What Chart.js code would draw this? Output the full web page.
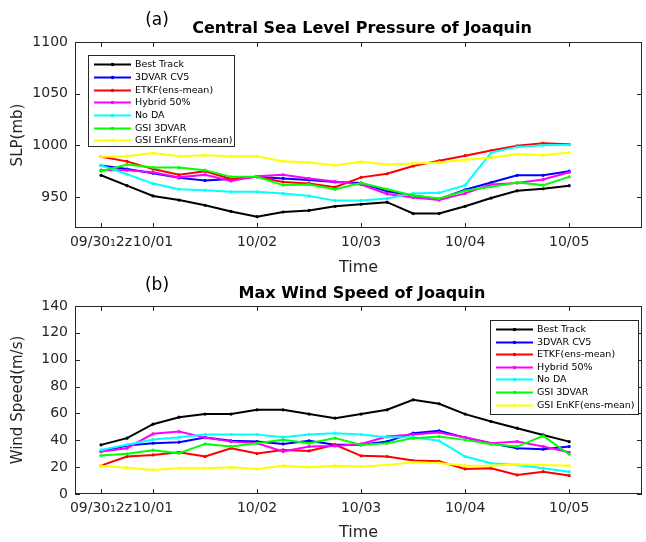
<!DOCTYPE html>
<html>
<head>
<meta charset="utf-8">
<script src="https://cdn.jsdelivr.net/npm/chart.js@4.4.0/dist/chart.umd.min.js"></script>
<style>
  body { margin: 0; background: #fff; }
  #wrap { position: relative; width: 646px; height: 542px; overflow: hidden; background: #fff; }
  canvas { position: absolute; left: 0; }
  #slpChart { top: 0; }
  #windChart { top: 271px; }
</style>
</head>
<body>
<div id="wrap">
  <canvas id="slpChart" width="646" height="280" style="width:646px;height:280px"></canvas>
  <canvas id="windChart" width="646" height="271" style="width:646px;height:271px"></canvas>
</div>
<script>
// hours after 09/30 12z, one point every 6 h
const hours = [0, 6, 12, 18, 24, 30, 36, 42, 48, 54, 60, 66, 72, 78, 84, 90, 96, 102, 108];
const tickHours = [0, 12, 36, 60, 84, 108];
const tickLabels = ['09/30\u20812z', '10/01', '10/02', '10/03', '10/04', '10/05'];

const seriesNames = ['Best Track', '3DVAR CV5', 'ETKF(ens-mean)', 'Hybrid 50%', 'No DA', 'GSI 3DVAR', 'GSI EnKF(ens-mean)'];
const seriesColors = ['#000000', '#0000ff', '#ff0000', '#ff00ff', '#00ffff', '#00ff00', '#ffff00'];

// (a) central sea level pressure, mb
const slpTicks = [950, 1000, 1050, 1100];
const bestSLP = [971, 961, 951, 947, 942, 936, 931, 935.5, 937, 941, 943, 945, 934, 934, 941, 949, 956, 958, 961];
const cv5SLP = [980.5, 977, 973, 968.5, 966, 967.5, 969.5, 968, 966.5, 964.5, 963.5, 955.5, 951.5, 948, 957, 964, 971, 971, 975];
const etkfSLP = [989, 984.5, 977, 971.5, 975, 967.5, 969.5, 964.5, 963, 959.5, 969, 972.5, 980, 985, 990, 995, 999.5, 1002, 1001];
const hybSLP = [976, 976, 974, 969, 971.5, 965.5, 970, 971.5, 968, 965, 962, 953, 949.5, 947, 953.5, 962, 963.5, 967, 974];
const nodaSLP = [980.5, 972, 963, 957.5, 956.5, 955, 955, 953.5, 951, 946.5, 946.5, 948.5, 953.5, 954, 961.5, 993, 998.5, 1000, 1000.5];
const gsiSLP = [975, 981.5, 978.5, 978.5, 976, 969.5, 969.5, 961.5, 962, 957.5, 963.5, 957.5, 951.5, 948.5, 956, 960, 964, 961.5, 969.5];
const enkfSLP = [989, 989.5, 992.5, 989.5, 990.5, 989.5, 989.5, 984.5, 983.5, 980.5, 984, 981.5, 982.5, 983.5, 986, 988, 991.5, 990.5, 993];

// (b) max wind speed, m/s
const windTicks = [0, 20, 40, 60, 80, 100, 120, 140];
const bestWind = [36.6, 41.6, 52, 57.2, 59.5, 59.5, 62.7, 62.7, 59.5, 56.5, 59.5, 62.7, 70.1, 67.2, 59.5, 54, 49, 44, 39];
const cv5Wind = [31.6, 36.1, 37.8, 38.6, 42, 39.6, 39.1, 37.3, 39.6, 36.6, 36.6, 39.1, 45.3, 47, 42, 37.8, 34.1, 33.4, 35.3];
const etkfWind = [21.1, 27.9, 29.1, 31.1, 27.9, 34.1, 30.1, 32.8, 32.1, 36.6, 28.4, 27.9, 24.9, 24.4, 18.7, 19.2, 14.2, 16.6, 13.7];
const hybWind = [31.6, 34.1, 44.8, 46.5, 42, 39, 37.8, 31.6, 35.3, 35.8, 37.3, 42.8, 44.3, 45.8, 42, 37.8, 39.1, 35.3, 31.1];
const nodaWind = [32.8, 36.6, 40.5, 42.3, 44.3, 44.3, 44.3, 42.3, 44.3, 45.3, 44.3, 42.3, 42.3, 39.6, 27.9, 22.9, 21.6, 19.2, 16.6];
const gsiWind = [28.6, 29.9, 32.6, 30.4, 37.3, 35.3, 37.8, 40.3, 37.8, 41.6, 36.6, 37.8, 41.6, 42.8, 40.3, 37, 35.3, 43.3, 29.6];
const enkfWind = [21.1, 19.6, 17.9, 19.2, 19.2, 19.9, 18.7, 21.1, 19.9, 21.1, 20.4, 21.6, 23.6, 23, 21.1, 21.1, 22.1, 21.6, 21.1];

Chart.defaults.font.family = 'DejaVu Sans';
Chart.defaults.color = '#262626';

const axisColor = '#262626';

function makeDatasets(list) {
    return list.map((vals, i) => ({
        label: seriesNames[i],
        data: vals.map((v, k) => ({x: hours[k], y: v})),
        borderColor: seriesColors[i],
        backgroundColor: seriesColors[i],
        borderWidth: 2,
        pointRadius: 1.6,
        pointBorderWidth: 0,
        tension: 0,
        order: list.length - i
    }));
}

// box around the axes + MATLAB style inward ticks, panel titles, legend
const matlabAxes = {
    id: 'matlabAxes',
    afterDraw(chart, args, o) {
        const {ctx, chartArea: a, scales: {x, y}} = chart;
        ctx.save();
        ctx.strokeStyle = axisColor;
        ctx.lineWidth = 1;
        ctx.strokeRect(a.left + 0.5, a.top + 0.5, a.right - a.left - 1, a.bottom - a.top - 1);
        ctx.beginPath();
        x.ticks.forEach(t => {
            const px = Math.round(x.getPixelForValue(t.value)) + 0.5;
            ctx.moveTo(px, a.bottom); ctx.lineTo(px, a.bottom - 5);
            ctx.moveTo(px, a.top); ctx.lineTo(px, a.top + 5);
        });
        y.ticks.forEach(t => {
            const py = Math.round(y.getPixelForValue(t.value)) + 0.5;
            ctx.moveTo(a.left, py); ctx.lineTo(a.left + 5, py);
            ctx.moveTo(a.right, py); ctx.lineTo(a.right - 5, py);
        });
        ctx.stroke();

        // titles
        ctx.fillStyle = '#000';
        ctx.textBaseline = 'middle';
        ctx.textAlign = 'center';
        ctx.font = '17px "DejaVu Sans"';
        ctx.fillText(o.panel, 157, o.titleY - 8);
        ctx.font = 'bold 16px "DejaVu Sans"';
        ctx.fillText(o.title, o.titleX, o.titleY);

        // legend
        const L = o.legend;
        ctx.fillStyle = '#fff';
        ctx.fillRect(L.x, L.y, L.w, L.h);
        ctx.strokeStyle = '#262626';
        ctx.strokeRect(L.x + 0.5, L.y + 0.5, L.w, L.h);
        ctx.font = '9.5px "DejaVu Sans"';
        ctx.textAlign = 'left';
        chart.data.datasets.forEach((ds, i) => {
            const ry = Math.round(L.y + L.first + i * L.row) + 0.5;
            ctx.strokeStyle = ds.borderColor;
            ctx.lineWidth = 2;
            ctx.beginPath();
            ctx.moveTo(L.x + 6, ry); ctx.lineTo(L.x + 43, ry);
            ctx.stroke();
            ctx.fillStyle = ds.borderColor;
            ctx.beginPath();
            ctx.arc(L.x + 24.5, ry, 1.8, 0, Math.PI * 2);
            ctx.fill();
            ctx.fillStyle = '#000';
            ctx.fillText(ds.label, L.x + 47, ry + 0.5);
        });
        ctx.restore();
    }
};

function makeOptions(cfg) {
    return {
        responsive: false,
        animation: false,
        layout: {padding: {top: cfg.top, left: 0, right: 1, bottom: 0}},
        plugins: {
            legend: {display: false},
            title: {display: false},
            tooltip: {enabled: false},
            matlabAxes: cfg.deco
        },
        scales: {
            x: {
                type: 'linear',
                min: -6,
                max: 124.8,
                grid: {display: false, drawTicks: false},
                border: {display: false},
                afterBuildTicks: s => { s.ticks = tickHours.map(v => ({value: v})); },
                afterFit: s => { s.height = cfg.xHeight; },
                ticks: {
                    autoSkip: false, maxRotation: 0, minRotation: 0, padding: 6,
                    font: {size: 14}, color: axisColor,
                    callback: v => tickLabels[tickHours.indexOf(v)]
                },
                title: {display: true, text: 'Time', font: {size: 16}, color: axisColor, padding: {top: 0, bottom: cfg.timePad}}
            },
            y: {
                min: cfg.ymin,
                max: cfg.ymax,
                grid: {display: false, drawTicks: false},
                border: {display: false},
                afterBuildTicks: s => { s.ticks = cfg.yTicks.map(v => ({value: v})); },
                afterFit: s => { s.width = 75; },
                ticks: {padding: 7, font: {size: 14}, color: axisColor, callback: v => String(v)},
                title: {display: true, text: cfg.yTitle, font: {size: 15}, color: axisColor, padding: {top: 9.5, bottom: 0}}
            }
        }
    };
}

new Chart(document.getElementById('slpChart'), {
    type: 'line',
    data: {datasets: makeDatasets([bestSLP, cv5SLP, etkfSLP, hybSLP, nodaSLP, gsiSLP, enkfSLP])},
    options: makeOptions({
        top: 42, xHeight: 52, timePad: 2.5, ymin: 920, ymax: 1100, yTicks: slpTicks, yTitle: 'SLP(mb)',
        deco: {panel: '(a)', title: 'Central Sea Level Pressure of Joaquin', titleX: 362, titleY: 29,
               legend: {x: 88, y: 55, w: 146, h: 91, first: 9.3, row: 12.67}}
    }),
    plugins: [matlabAxes]
});

new Chart(document.getElementById('windChart'), {
    type: 'line',
    data: {datasets: makeDatasets([bestWind, cv5Wind, etkfWind, hybWind, nodaWind, gsiWind, enkfWind])},
    options: makeOptions({
        top: 35, xHeight: 48, timePad: 0, ymin: 0, ymax: 140, yTicks: windTicks, yTitle: 'Wind Speed(m/s)',
        deco: {panel: '(b)', title: 'Max Wind Speed of Joaquin', titleX: 362, titleY: 23,
               legend: {x: 490, y: 49, w: 148, h: 94, first: 9, row: 12.6}}
    }),
    plugins: [matlabAxes]
});
</script>
</body>
</html>
